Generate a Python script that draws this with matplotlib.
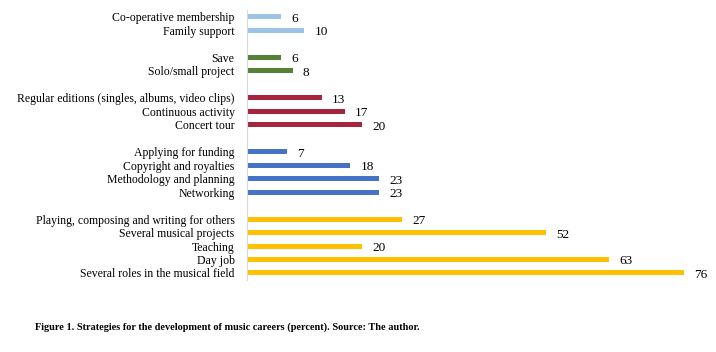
import numpy as np
import matplotlib.pyplot as plt

plt.rcParams['font.family'] = ['Liberation Serif', 'DejaVu Serif']

# groups top to bottom, blank slot between groups
groups = [
    (["Co-operative membership", "Family support"], [6, 10], "#9DC3E6"),
    (["Save", "Solo/small project"], [6, 8], "#548235"),
    (["Regular editions (singles, albums, video clips)", "Continuous activity", "Concert tour"],
     [13, 17, 20], "#A5253F"),
    (["Applying for funding", "Copyright and royalties", "Methodology and planning", "Networking"],
     [7, 18, 23, 23], "#4472C4"),
    (["Playing, composing and writing for others", "Several musical projects", "Teaching",
      "Day job", "Several roles in the musical field"],
     [27, 52, 20, 63, 76], "#FFC000"),
]

fig = plt.figure(figsize=(7.16, 3.52), dpi=100)
ax = fig.add_axes([0.345, 0.2054, 0.642, 0.7656])

pos = 0
ticks, tick_labels = [], []
for labels, values, color in groups:
    ys = np.arange(pos, pos + len(labels))
    ax.barh(ys, values, height=0.37, color=color)
    for y, v in zip(ys, values):
        ax.annotate(str(v), (v, y), xytext=(10, -2), textcoords='offset pixels',
                    ha='left', va='center', fontsize=9.5)
    ticks += list(ys)
    tick_labels += labels
    pos += len(labels) + 1

ax.set_ylim(pos - 1.5, -0.5)
ax.set_xlim(0, 80)
ax.set_yticks(ticks)
ax.set_yticklabels(tick_labels, fontsize=8.5)
ax.tick_params(axis='y', length=0, pad=9)
ax.set_xticks([])
for s in ['top', 'right', 'bottom']:
    ax.spines[s].set_visible(False)
ax.spines['left'].set_color('#D9D9D9')

fig.text(0.049, 0.071, "Figure 1. Strategies for the development of music careers (percent). Source: The author.",
         fontsize=7.4, fontweight='bold', ha='left', va='center')

fig.savefig('out.png', dpi=100)
